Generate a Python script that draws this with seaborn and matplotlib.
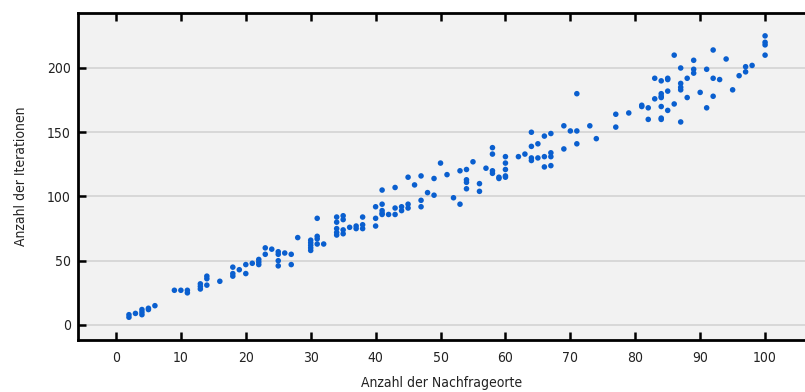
import matplotlib
matplotlib.use("Agg")
import matplotlib.pyplot as plt
import seaborn as sns
import pandas as pd

# Data: Anzahl der Nachfrageorte (x) vs Anzahl der Iterationen (y)
x_vals = [2, 2, 3, 4, 4, 4, 5, 5, 6, 9, 10, 11, 11, 13, 13, 13, 14, 14, 14, 16,
          18, 18, 18, 19, 20, 20, 21, 22, 22, 22, 23, 23, 24, 25, 25, 25, 25, 26, 27, 27,
          28, 30, 30, 30, 30, 30, 31, 31, 31, 31, 32, 34, 34, 34, 34, 34, 35, 35, 35, 35,
          36, 37, 37, 38, 38, 38, 40, 40, 40, 41, 41, 41, 41, 41, 42, 43, 43, 43, 44, 44,
          45, 45, 45, 46, 47, 47, 47, 48, 49, 49, 50, 51, 52, 53, 53, 54, 54, 54, 54, 55,
          56, 56, 57, 58, 58, 58, 58, 59, 59, 60, 60, 60, 60, 60, 62, 63, 64, 64, 64, 64,
          65, 65, 66, 66, 66, 67, 67, 67, 67, 69, 69, 70, 71, 71, 71, 73, 74, 77, 77, 79,
          81, 81, 82, 82, 83, 83, 84, 84, 84, 84, 84, 84, 84, 85, 85, 85, 85, 86, 86, 87,
          87, 87, 87, 87, 88, 88, 89, 89, 89, 90, 91, 91, 92, 92, 92, 93, 94, 95, 96, 97,
          97, 98, 100, 100, 100, 100]
y_vals = [8, 6, 9, 12, 10, 8, 13, 12, 15, 27, 27, 27, 25, 32, 30, 28, 38, 36, 31, 34,
          45, 40, 38, 43, 47, 40, 48, 51, 49, 47, 60, 55, 59, 57, 55, 50, 46, 56, 55, 47,
          68, 66, 64, 62, 60, 58, 83, 69, 67, 63, 63, 84, 80, 75, 72, 70, 85, 82, 74, 71,
          76, 77, 75, 84, 78, 75, 92, 83, 77, 105, 94, 89, 87, 86, 86, 107, 91, 86, 92, 89,
          115, 94, 91, 109, 116, 97, 92, 103, 114, 101, 126, 117, 99, 120, 94, 121, 113, 111, 106, 127,
          110, 104, 122, 138, 133, 120, 118, 115, 114, 131, 126, 121, 116, 115, 131, 133, 150, 139, 130, 128,
          141, 130, 147, 131, 123, 149, 134, 131, 124, 155, 137, 151, 180, 151, 141, 155, 145, 164, 154, 165,
          171, 170, 169, 160, 192, 176, 190, 180, 178, 177, 170, 161, 160, 192, 191, 182, 167, 210, 172, 200,
          188, 185, 183, 158, 192, 177, 206, 199, 196, 181, 199, 169, 214, 192, 178, 191, 207, 183, 194, 201,
          197, 202, 225, 220, 218, 210]
x_ticks = [0, 10, 20, 30, 40, 50, 60, 70, 80, 90, 100]
y_ticks = [0, 50, 100, 150, 200]
x_label = "Anzahl der Nachfrageorte"
y_label = "Anzahl der Iterationen"

df = pd.DataFrame({"x": x_vals, "y": y_vals})

sns.set_style("white")
plt.rcParams["font.family"] = ["DejaVu Sans"]
plt.rcParams["font.stretch"] = "condensed"

fig = plt.figure(figsize=(8.05, 3.92), dpi=100)
ax = fig.add_axes([78 / 805, 52 / 392, 727 / 805, 327 / 392])
ax.set_facecolor("#f2f2f2")

sns.scatterplot(data=df, x="x", y="y", ax=ax, color="#0a5fcf", s=16,
                edgecolor="none", linewidth=0, zorder=3)

ax.set_xlim(-5.85, 106.15)
ax.set_ylim(-11.7, 242.8)
ax.set_xticks(x_ticks)
ax.set_yticks(y_ticks)
ax.yaxis.grid(True, color="#d6d6d6", linewidth=1.3)
ax.xaxis.grid(False)
ax.set_axisbelow(True)

for s in ["left", "top", "bottom"]:
    ax.spines[s].set_visible(True)
    ax.spines[s].set_color("black")
    ax.spines[s].set_linewidth(2)
ax.spines["right"].set_visible(False)

ax.tick_params(axis="x", direction="in", length=6, width=1.8, color="black",
               top=True, bottom=True, labelsize=10, pad=8, labelcolor="#222222")
ax.tick_params(axis="y", direction="in", length=6, width=1.8, color="black",
               left=True, right=False, labelsize=10, pad=5, labelcolor="#222222")

ax.set_xlabel(x_label, fontsize=10, labelpad=8, color="#222222")
ax.set_ylabel(y_label, fontsize=10, labelpad=14, color="#222222")

fig.savefig("out.png", dpi=100)
